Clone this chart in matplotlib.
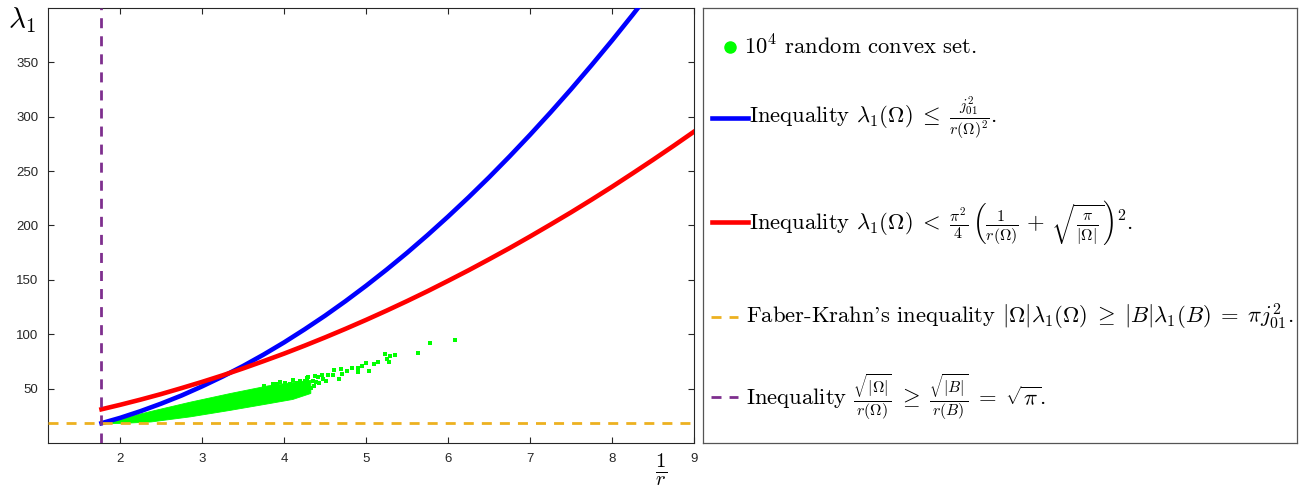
import matplotlib
matplotlib.use('Agg')
import matplotlib.pyplot as plt

plt.rcParams['mathtext.fontset'] = 'cm'

# threshold values
SQRT_PI = 1.7725          # sqrt(pi) : vertical line
FK_LEVEL = 18.17          # pi * j01^2 : horizontal line

# upper bound  j01^2 / r^2  (blue)
blue_x = [1.7725, 2.0, 2.25, 2.5, 2.75, 3.0, 3.25, 3.5, 3.75, 4.0, 4.25, 4.5, 4.75, 5.0, 5.25,
          5.5, 5.75, 6.0, 6.25, 6.5, 6.75, 7.0, 7.25, 7.5, 7.75, 8.0, 8.25, 8.5]
blue_y = [18.2, 23.1, 29.3, 36.2, 43.7, 52.1, 61.1, 70.8, 81.3, 92.5, 104.5, 117.1, 130.5, 144.6, 159.4,
          174.9, 191.2, 208.2, 225.9, 244.3, 263.5, 283.4, 304.0, 325.3, 347.4, 370.1, 393.6, 417.8]

# upper bound  pi^2/4 (1/r + sqrt(pi/|O|))^2  (red)
red_x = [1.7725, 2.0, 2.25, 2.5, 2.75, 3.0, 3.25, 3.5, 3.75, 4.0, 4.25, 4.5, 4.75, 5.0, 5.25,
         5.5, 5.75, 6.0, 6.25, 6.5, 6.75, 7.0, 7.25, 7.5, 7.75, 8.0, 8.25, 8.5, 8.75, 9.0]
red_y = [31.0, 35.1, 39.9, 45.0, 50.5, 56.2, 62.2, 68.6, 75.3, 82.2, 89.5, 97.1, 105.0, 113.2, 121.7,
         130.5, 139.6, 149.1, 158.8, 168.9, 179.2, 189.9, 200.9, 212.1, 223.7, 235.6, 247.9, 260.4, 273.2, 286.3]

# dense part of the random convex sets cloud (envelope)
band_x = [1.7725, 2.0, 2.1, 2.37, 2.85, 3.34, 3.8, 4.1, 4.32]
band_hi = [18.2, 22.5, 24.5, 29.5, 38.0, 46.0, 53.0, 56.0, 58.0]
band_lo = [18.2, 18.5, 18.8, 19.8, 24.5, 30.5, 36.5, 40.5, 46.0]

# sparse points of the cloud
pts_x = [6.085, 5.78, 5.63, 5.236, 5.297, 5.354, 5.252, 5.284, 5.150, 5.101, 5.04, 5.004,
         4.955, 4.906, 4.899, 4.826, 4.772, 4.703, 4.695, 4.675, 4.614, 4.594, 4.54, 4.512,
         4.479, 4.46, 4.418, 4.39, 4.378, 4.35, 4.326, 4.277, 4.256, 4.195, 4.244, 4.277,
         4.155, 4.113, 4.073, 4.012, 3.951, 3.911, 4.236, 4.297, 3.86, 3.75, 4.36, 4.42]
pts_y = [95.0, 91.6, 83.0, 81.8, 80.3, 80.6, 77.5, 74.1, 74.5, 72.7, 66.5, 73.6,
         71.1, 68.6, 65.0, 68.6, 66.5, 63.5, 68.3, 58.9, 67.2, 62.6, 62.8, 56.7,
         58.9, 62.8, 60.7, 56.4, 61.9, 56.7, 50.6, 58.9, 56.7, 57.2, 54.1, 59.7,
         55.1, 57.7, 54.5, 55.1, 56.1, 54.5, 49.5, 60.3, 54.5, 52.5, 52.0, 55.0]

x_ticks = [2, 3, 4, 5, 6, 7, 8, 9]
y_ticks = [50, 100, 150, 200, 250, 300, 350]

GREEN = '#00ff00'
BLUE = '#0000ff'
RED = '#ff0000'
ORANGE = '#edb120'
PURPLE = '#7e2f8e'
DARK = '#262626'
DASH = (0, (3.6, 2.9))

W, H = 1309, 492
fig = plt.figure(figsize=(W / 100, H / 100), dpi=100)

ax = fig.add_axes([48 / W, 1 - 443 / H, (694 - 48) / W, (443 - 8) / H])
ax.fill_between(band_x, band_lo, band_hi, color=GREEN, lw=0.6, edgecolor=GREEN, zorder=2)
ax.scatter(pts_x, pts_y, s=5, color=GREEN, marker='s', lw=0, zorder=2)
ax.plot(blue_x, blue_y, color=BLUE, lw=3.3, zorder=3, solid_joinstyle='round')
ax.plot(red_x, red_y, color=RED, lw=3.3, zorder=3, solid_joinstyle='round')
ax.axhline(FK_LEVEL, color=ORANGE, lw=2.0, ls=DASH, zorder=4)
ax.axvline(SQRT_PI, color=PURPLE, lw=2.0, ls=DASH, zorder=4)

ax.set_xlim(1.12, 9)
ax.set_ylim(0, 400)
ax.set_xticks(x_ticks)
ax.set_yticks(y_ticks)
ax.tick_params(direction='in', top=True, right=True, length=4, width=0.8,
               colors=DARK, labelsize=9.5, pad=7)
for lab in ax.get_xticklabels() + ax.get_yticklabels():
    lab.set_fontfamily('Liberation Sans')
for sp in ax.spines.values():
    sp.set_color(DARK)
    sp.set_linewidth(0.8)

fig.text(8 / W, 1 - 20 / H, r'$\lambda_1$', fontsize=21, va='center', ha='left')
fig.text(661 / W, 1 - 470 / H, r'$\frac{1}{r}$', fontsize=21, va='center', ha='center')

# legend box
lg = fig.add_axes([703 / W, 1 - 443 / H, (1297 - 703) / W, (443 - 8) / H])
lg.set_xticks([])
lg.set_yticks([])
lg.set_xlim(0, 1)
lg.set_ylim(0, 1)
for sp in lg.spines.values():
    sp.set_color('#555555')
    sp.set_linewidth(0.9)


def fy(py):
    return (443 - py) / 435


def fx(px):
    return (px - 703) / 594


txt_kw = dict(fontsize=16.3, fontfamily='cmr10', va='center', ha='left')

lg.plot([fx(730)], [fy(47)], 'o', color=GREEN, ms=8)
lg.text(fx(744), fy(46), r'$10^4$ random convex set.', **txt_kw)

lg.plot([fx(712), fx(748)], [fy(118)] * 2, color=BLUE, lw=3.3)
lg.text(fx(749), fy(118),
        r'Inequality $\lambda_1(\Omega)\;\leq\;\frac{j_{01}^2}{r(\Omega)^2}$.', **txt_kw)

lg.plot([fx(712), fx(748)], [fy(222)] * 2, color=RED, lw=3.3)
lg.text(fx(749), fy(222),
        r'Inequality $\lambda_1(\Omega)\;<\;\frac{\pi^2}{4}\,\left(\frac{1}{r(\Omega)}\,+\,'
        r'\sqrt{\frac{\pi}{|\Omega|}}\right)^2$.',
        **txt_kw)

lg.plot([fx(711), fx(738)], [fy(317)] * 2, color=ORANGE, lw=2.0, ls=DASH)
lg.text(fx(746), fy(317),
        r"Faber-Krahn's inequality $|\Omega|\lambda_1(\Omega)\;\geq\;|B|\lambda_1(B)\;=\;\pi j_{01}^2$.",
        **txt_kw)

lg.plot([fx(711), fx(738)], [fy(397)] * 2, color=PURPLE, lw=2.0, ls=DASH)
lg.text(fx(746), fy(397),
        r'Inequality $\frac{\sqrt{|\Omega|}}{r(\Omega)}\;\geq\;\frac{\sqrt{|B|}}{r(B)}\;=\;\sqrt{\pi}$.',
        **txt_kw)

fig.savefig('out.png', dpi=100)
